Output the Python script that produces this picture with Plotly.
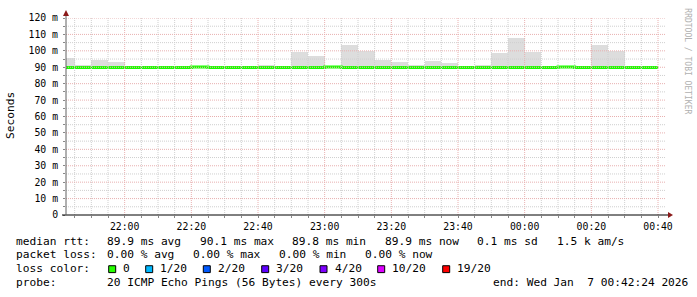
import plotly.graph_objects as go
import pandas as pd

# ---------------- data ----------------
interval_start = list(pd.date_range("2026-01-06 21:40", "2026-01-07 00:35", freq="5min"))
rtt_max = [95.5, 91.3, 94.5, 93.1, 90.3, 90.3, 90.3, 90.3, 90.3, 90.3, 90.3, 90.3,
           91.1, 90.3, 99.0, 96.6, 90.4, 103.8, 99.6, 94.4, 92.9, 91.1, 93.6, 92.4,
           90.3, 91.2, 98.4, 108.0, 99.0, 90.3, 90.3, 90.3, 103.8, 99.6, 90.3, 90.3]
rtt_min = [89.6] * 36
rtt_median = [89.9, 89.9, 89.9, 89.9, 89.9, 89.9, 89.9, 89.9, 90.1, 89.9, 89.9, 89.9,
              89.9, 89.9, 89.9, 89.9, 90.1, 89.9, 89.8, 89.8, 89.8, 89.8, 89.8, 89.8,
              89.8, 89.8, 89.9, 89.9, 89.9, 89.8, 90.1, 89.9, 89.9, 89.9, 89.8, 89.8]
y_tick_vals = [0, 10, 20, 30, 40, 50, 60, 70, 80, 90, 100, 110, 120]
y_tick_text = ["0", "10 m", "20 m", "30 m", "40 m", "50 m", "60 m", "70 m", "80 m",
               "90 m", "100 m", "110 m", "120 m"]
x_start = "2026-01-06 21:42:24"
x_end = "2026-01-07 00:42:24"

legend_line1 = ["median rtt:", "89.9 ms avg", "90.1 ms max", "89.8 ms min", "89.9 ms now",
                "0.1 ms sd", "1.5 k am/s"]
legend_line2 = ["packet loss:", "0.00 % avg", "0.00 % max", "0.00 % min", "0.00 % now"]
loss_labels = ["0", "1/20", "2/20", "3/20", "4/20", "10/20", "19/20"]
loss_colors = ["#26ff00", "#00b8ff", "#0059ff", "#5e00ff", "#7e00ff", "#dd00ff", "#ff0000"]
probe_text = "20 ICMP Echo Pings (56 Bytes) every 300s"
end_text = "end: Wed Jan  7 00:42:24 2026"

# ---------------- layout helpers ----------------
W, H = 697, 297
L, R, T, B = 66, 666, 15, 215
MONO = "DejaVu Sans Mono"


def px(x):
    return (x - L) / (R - L)


def py(y):
    return (B - y) / (B - T)


step = pd.Timedelta(minutes=5)
centers = [s + step / 2 for s in interval_start]

fig = go.Figure()
fig.add_trace(go.Bar(
    x=centers, y=[a - b for a, b in zip(rtt_max, rtt_min)], base=rtt_min,
    width=300000, marker=dict(color="#dddddd", line=dict(width=0)), hoverinfo="skip"))
fig.add_trace(go.Scatter(
    x=interval_start + [interval_start[-1] + step], y=rtt_median + [rtt_median[-1]],
    mode="lines", line=dict(color="#1aff00", width=3, shape="hv"), hoverinfo="skip"))

shapes = []
# grid drawn above data (like rrdtool)
minor_col = "#cfcfcf"
major_col = "#e8b0b0"
t = pd.Timestamp("2026-01-06 21:45")
while t <= pd.Timestamp(x_end):
    col = major_col if t.minute % 20 == 0 else minor_col
    shapes.append(dict(type="line", xref="x", yref="paper", x0=t, x1=t, y0=0, y1=1,
                       line=dict(color=col, width=1, dash="1px,1px"), layer="above"))
    t += step
for v in range(5, 121, 5):
    col = major_col if v % 10 == 0 else minor_col
    shapes.append(dict(type="line", xref="paper", yref="y", x0=0, x1=1, y0=v, y1=v,
                       line=dict(color=col, width=1, dash="1px,1px"), layer="above"))

# axis lines and arrows
shapes.append(dict(type="line", xref="paper", yref="paper", x0=px(62), x1=px(669), y0=0, y1=0,
                   line=dict(color="#000000", width=1), layer="above"))
shapes.append(dict(type="line", xref="paper", yref="paper", x0=0, x1=0, y0=0, y1=py(11),
                   line=dict(color="#606060", width=1), layer="above"))
shapes.append(dict(type="path", xref="paper", yref="paper",
                   path=f"M {px(668)},{py(212)} L {px(673)},{py(215)} L {px(668)},{py(218)} Z",
                   fillcolor="#8b1a1a", line=dict(width=0), layer="above"))
shapes.append(dict(type="path", xref="paper", yref="paper",
                   path=f"M {px(63)},{py(13)} L {px(66)},{py(7)} L {px(69)},{py(13)} Z",
                   fillcolor="#8b1a1a", line=dict(width=0), layer="above"))

annotations = []
FS = 11.2


def text(x, y, s, size=FS, color="#000000", anchor="left", angle=0):
    annotations.append(dict(xref="paper", yref="paper", x=px(x), y=py(y), text=s,
                            showarrow=False, xanchor=anchor, yanchor="middle",
                            textangle=angle, borderpad=0, borderwidth=0,
                            font=dict(family=MONO, size=size, color=color)))


line1_x = [16, 107.3, 199.5, 292, 384.5, 477.3, 557.3]
for x, s in zip(line1_x, legend_line1):
    text(x, 241.6, s)
line2_x = [16, 107.3, 193.3, 279.3, 365]
for x, s in zip(line2_x, legend_line2):
    text(x, 255.6, s)
text(16, 269.6, "loss color:")
box_x = [108.7, 145.7, 203.3, 261.7, 320, 377.7, 442.7]
for x, s, c in zip(box_x, loss_labels, loss_colors):
    shapes.append(dict(type="rect", xref="paper", yref="paper", x0=px(x), x1=px(x + 7),
                       y0=py(266.5), y1=py(273.5), fillcolor=c,
                       line=dict(color="#000000", width=1), layer="above"))
    text(x + 14.6, 269.6, s)
text(16, 283.6, "probe:")
text(107.3, 283.6, probe_text)
text(493.3, 283.6, end_text)
text(10.5, 114, "Seconds", size=11.2, angle=-90, anchor="center")
text(688, 59, "RRDTOOL / TOBI OETIKER", size=8, color="#b0b0b0", angle=90, anchor="center")

fig.update_layout(
    width=W, height=H, autosize=False,
    margin=dict(l=L, r=W - R, t=T, b=H - B, pad=0),
    paper_bgcolor="#ffffff", plot_bgcolor="#ffffff",
    showlegend=False, bargap=0,
    shapes=shapes, annotations=annotations,
    xaxis=dict(type="date", range=[x_start, x_end], tick0="2026-01-06 22:00",
               dtick=1200000, tickformat="%H:%M", showgrid=False, zeroline=False,
               showline=False, ticks="outside", ticklen=2, tickcolor="#888888",
               tickfont=dict(family=MONO, size=9.8, color="#000000"),
               minor=dict(dtick=300000, tick0="2026-01-06 21:45", ticks="outside",
                          ticklen=2, tickcolor="#888888", showgrid=False),
               fixedrange=True),
    yaxis=dict(range=[0, 120], tickvals=y_tick_vals, ticktext=y_tick_text,
               showgrid=False, zeroline=False, showline=False, ticks="outside",
               ticklen=2, tickcolor="#888888", ticklabelstandoff=3,
               tickfont=dict(family=MONO, size=9.8, color="#000000"),
               minor=dict(dtick=5, tick0=0, ticks="outside", ticklen=2,
                          tickcolor="#888888", showgrid=False),
               fixedrange=True),
)

fig.write_html("out.html", config={"displayModeBar": False})
